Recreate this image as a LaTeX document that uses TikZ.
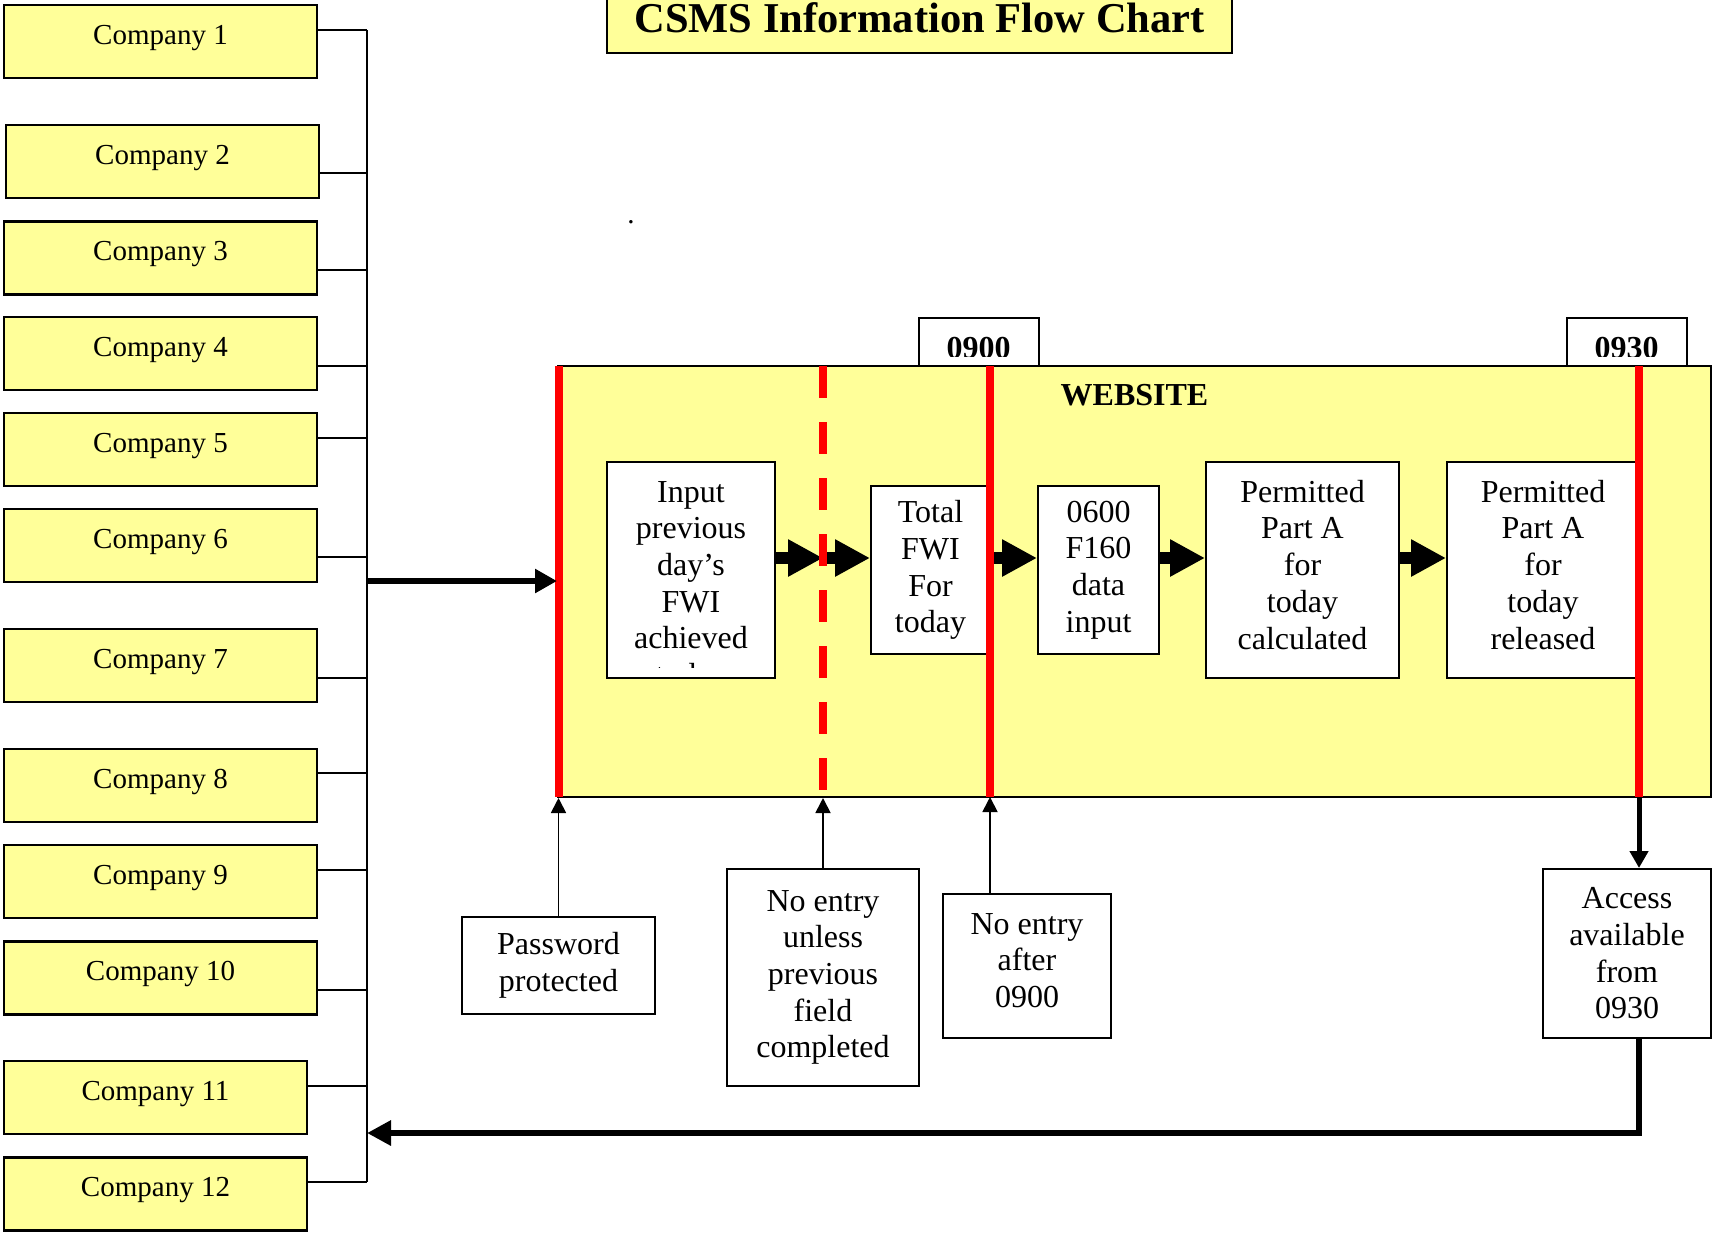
\documentclass[tikz,border=0pt]{standalone}
\usepackage{fontspec}
\setmainfont{Liberation Serif}
\usepackage{xcolor}
\usepackage{graphicx}
\usetikzlibrary{arrows.meta,calc}
\definecolor{memoyellow}{RGB}{255,255,153}

\begin{document}
\begin{tikzpicture}[x=0.5pt,y=-0.5pt,
  company/.style={draw,line width=1.2pt,fill=memoyellow,minimum width=156.5pt,inner sep=0pt,text height=19.5pt,text depth=17pt,font=\fontsize{14.5}{17}\selectfont},
  infobox/.style={draw,line width=1pt,fill=white,inner sep=0pt,align=center,font=\fontsize{16}{18.35}\selectfont},
  timebox/.style={draw,line width=1pt,fill=white,minimum width=60pt,minimum height=24pt,inner sep=0pt},
  timetext/.style={anchor=base,inner sep=0pt,font=\fontsize{16}{18}\selectfont\bfseries},
  redline/.style={draw=red,line width=4pt},
  blockarrow/.style={line width=6pt,-{Triangle[length=17.5pt,width=17.5pt]}},
  thinarrow/.style={line width=0.9pt,-{Triangle[length=7.5pt,width=7.5pt]}}]
\useasboundingbox (0,0) rectangle (1712,1233);

%time marks above the website
\node[timebox] (box900) at (978.5,342) {};
\begin{scope}
\clip (box900.north west) rectangle (1038,356);
\node[timetext] (t900) at (978.5,358) {0900};
\end{scope}
\node[timebox] (box930) at (1627,341.5) {};
\begin{scope}
\clip (box930.north west) rectangle (1687,356);
\node[timetext] (t930) at (1626.5,358) {0930};
\end{scope}

%website area
\node[draw,line width=1pt,fill=memoyellow,minimum width=576.5pt,minimum height=215.5pt,inner sep=0pt] (web) at (1134.5,581.5) {};
\node[inner sep=0pt,font=\fontsize{16}{18}\selectfont\bfseries] (weblabel) at (1134.5,395.5) {WEBSITE};

%steps inside the website
\node[infobox,minimum width=84pt,minimum height=108pt] (input) at (691,570) {};
\begin{scope}
\clip (607,462) rectangle (775,667); %last line cut off
\node[anchor=base,inner sep=0pt] (inputtext) at (691,502) {\parbox[t]{80pt}{\centering\fontsize{16}{18.35}\selectfont Input\\previous\\day’s\\FWI\\achieved\\today}};
\end{scope}
\node[infobox,minimum width=59.5pt,minimum height=84pt] (total) at (930.5,570) {Total\\FWI\\For\\today};
\node[infobox,minimum width=60.5pt,minimum height=84pt] (f160) at (1098.5,570) {0600\\F160\\data\\input};
\node[infobox,minimum width=96.5pt,minimum height=108pt] (calc) at (1302.5,570) {Permitted\\Part A\\for\\today\\calculated\strut};
\node[infobox,minimum width=96pt,minimum height=108pt] (rel) at (1543,570) {Permitted\\Part A\\for\\today\\released\strut};

\coordinate (dash) at (823,558);
\draw[blockarrow] (input.east |- dash) -- (dash);
\draw[blockarrow] (dash) -- (total.west |- dash);
\draw[blockarrow] (total.east |- dash) -- (f160.west |- dash);
\draw[blockarrow] (f160.east |- dash) -- (calc.west |- dash);
\draw[blockarrow] (calc.east |- dash) -- (rel.west |- dash);

%red time lines
\coordinate (r900) at (990,797);
\coordinate (r930) at (1639,797);
\draw[redline] (559,366) -- (559,797);
\draw[redline,dash pattern=on 16pt off 12pt] (823,366) -- (823,797);
\draw[redline] (990,366) -- (r900);
\draw[redline] (1639,366) -- (r930);

%notes below
\node[infobox,minimum width=96.5pt,minimum height=48.5pt] (pw) at (558.5,965.5) {Password\\protected};
\node[infobox,minimum width=96pt,minimum height=108.5pt] (unless) at (823,977.5) {No entry\\unless\\previous\\field\\completed};
\node[infobox,minimum width=84pt,minimum height=72pt] (after) at (1027,966) {No entry\\after\\0900\strut};
\node[infobox,minimum width=84pt,minimum height=84.5pt] (access) at (1627,953.5) {Access\\available\\from\\0930};

\draw[thinarrow] (pw.north) -- (pw.north |- web.south);
\draw[thinarrow] (unless.north) -- (unless.north |- web.south);
\draw[thinarrow] (after.north -| r900) -- (r900);
\draw[line width=2.5pt,-{Triangle[length=8.5pt,width=9pt]}] (r930) -- (r930 |- access.north);

%companies
\node[company] (c1) at (160.5,41.5) {Company 1};
\node[company] (c2) at (162.5,161.5) {Company 2};
\node[company] (c3) at (160.5,258) {Company 3};
\node[company] (c4) at (160.5,353.5) {Company 4};
\node[company] (c5) at (160.5,449.5) {Company 5};
\node[company] (c6) at (160.5,545.5) {Company 6};
\node[company] (c7) at (160.5,665.5) {Company 7};
\node[company] (c8) at (160.5,785.5) {Company 8};
\node[company] (c9) at (160.5,881.5) {Company 9};
\node[company] (c10) at (160.5,978) {Company 10};
\node[company,minimum width=151.5pt] (c11) at (155.5,1097.5) {Company 11};
\node[company,minimum width=151.5pt] (c12) at (155.5,1194) {Company 12};

\coordinate (j1) at (367,30);
\coordinate (j2) at (367,173);
\coordinate (j3) at (367,270);
\coordinate (j4) at (367,366);
\coordinate (j5) at (367,438);
\coordinate (j6) at (367,557);
\coordinate (j7) at (367,678);
\coordinate (j8) at (367,773);
\coordinate (j9) at (367,870);
\coordinate (j10) at (367,990);
\coordinate (j11) at (367,1086);
\coordinate (j12) at (367,1182);
\draw[line width=0.9pt] (j1) -- (j12); %bus
\draw[line width=0.75pt] (c1.east |- j1) -- (j1);
\draw[line width=0.75pt] (c2.east |- j2) -- (j2);
\draw[line width=0.75pt] (c3.east |- j3) -- (j3);
\draw[line width=0.75pt] (c4.east |- j4) -- (j4);
\draw[line width=0.75pt] (c5.east |- j5) -- (j5);
\draw[line width=0.75pt] (c6.east |- j6) -- (j6);
\draw[line width=0.75pt] (c7.east |- j7) -- (j7);
\draw[line width=0.75pt] (c8.east |- j8) -- (j8);
\draw[line width=0.75pt] (c9.east |- j9) -- (j9);
\draw[line width=0.75pt] (c10.east |- j10) -- (j10);
\draw[line width=0.75pt] (c11.east |- j11) -- (j11);
\draw[line width=0.75pt] (c12.east |- j12) -- (j12);

\coordinate (feed) at (367,581);
\draw[line width=3.25pt,-{Triangle[length=11pt,width=11.5pt]}] (feed) -- (feed -| web.west);
\coordinate (back) at (1639,1133);
\draw[line width=3pt,-{Triangle[length=12pt,width=12pt]}] (access.south -| r930) -- (back) -- (back -| j1); %return to companies

%title
\node[draw,line width=1.2pt,fill=memoyellow,minimum width=312.5pt,minimum height=35.5pt,inner sep=0pt,text height=14.5pt,text depth=0pt,font=\fontsize{21.25}{25}\selectfont\bfseries] (title) at (919.5,17.5) {CSMS Information Flow Chart};
\node[inner sep=0pt,font=\fontsize{14.5}{17}\selectfont] (stray) at (631,222) {.};
\end{tikzpicture}
\end{document}
